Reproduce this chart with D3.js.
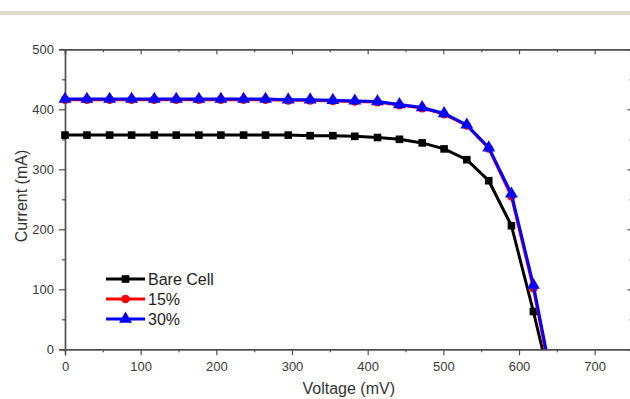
<!DOCTYPE html>
<html>
<head>
<meta charset="utf-8">
<script src="https://cdn.jsdelivr.net/npm/d3@7"></script>
<style>
    body { margin: 0; background: #fff; }
    svg { display: block; font-family: "Liberation Sans", Arial, sans-serif; }
</style>
</head>
<body>
<div id="container"></div>
<script>
const voltage = [0, 29, 59, 88, 118, 147, 177, 206, 236, 265, 295, 324, 354, 383, 413, 442, 472, 501, 531, 560, 590, 619, 648];
const bareCell = [357, 357, 357, 357, 357, 357, 357, 357, 357, 357, 357, 356, 356, 355, 353, 350, 344, 334, 316, 281, 206, 63, -90];
const coat15 = [416, 416, 416, 416, 416, 416, 416, 416, 416, 416, 415, 415, 414, 413, 412, 407, 402, 392, 373, 335, 255, 102, -85];
const coat30 = [417, 417, 417, 417, 417, 417, 417, 417, 417, 417, 416, 416, 415, 414, 413, 408, 403, 393, 374, 336, 259, 107, -80];
const seriesNames = ["Bare Cell", "15%", "30%"];
const xTicks = [0, 100, 200, 300, 400, 500, 600, 700];
const yTicks = [0, 100, 200, 300, 400, 500];

document.addEventListener("DOMContentLoaded", () => {

    const h = 399; // canvas height
    const w = 630; // canvas width
    const left = 65, right = 632.5, top = 49.3, bottom = 349.3; // plot box

    const svg = d3.select("#container").append("svg").attr("width", w).attr("height", h);

    // beige strip across the top
    svg.append("rect").attr("x", 0).attr("y", 11).attr("width", w).attr("height", 4).attr("fill", "#e2dccd");

    const xScale = d3.scaleLinear().domain([0, 750]).range([left, right]);
    const yScale = d3.scaleLinear().domain([0, 500]).range([bottom, top]);

    const axisColor = "#505050";
    const styleAxis = (g) => {
        g.select(".domain").attr("stroke", axisColor).attr("stroke-width", 1.4);
        g.selectAll(".tick line").attr("stroke", axisColor).attr("stroke-width", 1.2);
        g.selectAll(".tick text").attr("fill", "#3a3a3a").attr("font-size", 13).attr("font-family", "Liberation Sans, Arial, sans-serif");
    };

    // minor ticks first, majors on top
    const xMinor = d3.range(50, 750, 100);
    const yMinor = d3.range(50, 500, 100);

    svg.append("g").attr("transform", `translate(0, ${bottom})`).call(d3.axisBottom(xScale).tickValues(xMinor).tickSize(3).tickFormat("")).call(styleAxis);
    svg.append("g").attr("id", "x-axis").attr("transform", `translate(0, ${bottom})`).call(d3.axisBottom(xScale).tickValues(xTicks).tickSize(6).tickPadding(6).tickFormat(d3.format("d"))).call(styleAxis);

    svg.append("g").attr("transform", `translate(0, ${top})`).call(d3.axisBottom(xScale).tickValues(xMinor).tickSize(3).tickFormat("")).call(styleAxis);
    svg.append("g").attr("transform", `translate(0, ${top})`).call(d3.axisBottom(xScale).tickValues(xTicks).tickSize(5).tickFormat("")).call(styleAxis);

    svg.append("g").attr("transform", `translate(${left}, 0)`).call(d3.axisLeft(yScale).tickValues(yMinor).tickSize(3).tickFormat("")).call(styleAxis);
    svg.append("g").attr("id", "y-axis").attr("transform", `translate(${left}, 0)`).call(d3.axisLeft(yScale).tickValues(yTicks).tickSize(6).tickPadding(5).tickFormat(d3.format("d"))).call(styleAxis);

    svg.append("g").attr("transform", `translate(${right}, 0)`).call(d3.axisLeft(yScale).tickValues(yMinor).tickSize(3).tickFormat("")).call(styleAxis);
    svg.append("g").attr("transform", `translate(${right}, 0)`).call(d3.axisLeft(yScale).tickValues(yTicks).tickSize(5).tickFormat("")).call(styleAxis);

    // axis titles
    svg.append("text").attr("x", (left + right) / 2).attr("y", 394).attr("text-anchor", "middle").attr("font-size", 16).attr("fill", "#333").text("Voltage (mV)");
    svg.append("text").attr("transform", "translate(27, 196) rotate(-90)").attr("text-anchor", "middle").attr("font-size", 16).attr("fill", "#333").text("Current (mA)");

    svg.append("clipPath").attr("id", "plot-clip").append("rect").attr("x", left).attr("y", top).attr("width", right - left).attr("height", bottom - top);

    const series = [
        { name: seriesNames[0], values: bareCell, color: "#000000", shape: d3.symbolSquare, size: 58 },
        { name: seriesNames[1], values: coat15, color: "#ff0000", shape: d3.symbolCircle, size: 60 },
        { name: seriesNames[2], values: coat30, color: "#0000ff", shape: d3.symbolTriangle, size: 72 }
    ];

    const line = d3.line().x((d) => xScale(d[0])).y((d) => yScale(d[1]));

    series.forEach((s) => {
        const pts = voltage.map((v, i) => [v, s.values[i]]);
        svg.append("path").datum(pts).attr("d", line).attr("fill", "none").attr("stroke", s.color).attr("stroke-width", 3).attr("clip-path", "url(#plot-clip)");
        svg.append("g").selectAll("path").data(pts.filter((d) => d[1] >= 0)).enter().append("path")
            .attr("d", d3.symbol().type(s.shape).size(s.size))
            .attr("transform", (d) => `translate(${xScale(d[0])}, ${yScale(d[1])})`)
            .attr("fill", s.color);
    });

    // legend
    const legend = svg.append("g").attr("transform", "translate(106, 279)");
    series.forEach((s, i) => {
        const row = legend.append("g").attr("transform", `translate(0, ${i * 20})`);
        row.append("line").attr("x1", 0).attr("x2", 39).attr("y1", 0).attr("y2", 0).attr("stroke", s.color).attr("stroke-width", 3);
        row.append("path").attr("d", d3.symbol().type(s.shape).size(s.size)).attr("transform", "translate(19.5, 0)").attr("fill", s.color);
        row.append("text").attr("x", 42).attr("y", 5.5).attr("font-size", 16).attr("fill", "#222").text(s.name);
    });

});
</script>
</body>
</html>
